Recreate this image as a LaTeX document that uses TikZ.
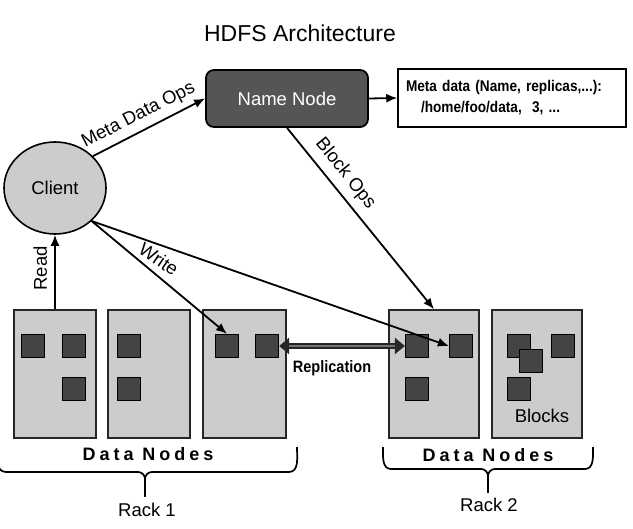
\documentclass[tikz,border=0pt]{standalone}
\usepackage{fontspec}
\setmainfont{Liberation Sans}
\newfontfamily\narrowfont[FakeStretch=0.88]{Liberation Sans}
\usetikzlibrary{arrows.meta,shapes.geometric}
\definecolor{lgray}{HTML}{CCCCCC}
\definecolor{dgray}{HTML}{555555}
\definecolor{bgray}{HTML}{444444}
\begin{document}
\begin{tikzpicture}[x=1pt,y=-1pt,
  lbl/.style={font=\fontsize{18.5}{18.5}\selectfont, inner sep=2pt},
  slbl/.style={lbl, sloped, anchor=south, inner ysep=#1},
  arr/.style={-{Latex[length=11pt,width=9pt]}, line width=1.8pt},
  dnode/.style={draw=black!85, fill=lgray, line width=1.6pt, inner sep=0, minimum height=128pt},
  blk/.style={draw=black, fill=bgray, line width=1.3pt, minimum size=23pt, inner sep=0},
  brace/.style={line width=1.7pt},
  dnlbl/.style={font={\bfseries\fontsize{18}{18}\selectfont\addfontfeature{LetterSpace=22}}},
  repl/.style={line width=5.5pt, draw=black!85, {Triangle[length=10pt,width=16pt]}-{Triangle[length=10pt,width=16pt]}},
  replin/.style={line width=1.6pt, draw=black!55, shorten >=10pt, shorten <=10pt}
]
\useasboundingbox (0,0) rectangle (633,529);

% title
\node[font=\fontsize{23}{24}\selectfont] (title) at (300,33) {HDFS Architecture};

% name node and meta data
\node[draw=black, fill=dgray, rounded corners=8pt, line width=1.8pt,
      minimum width=162pt, minimum height=57pt, text=white,
      font=\fontsize{18.5}{18.5}\selectfont] (nn) at (287,98.5) {Name Node};
\node[draw=black, line width=1.5pt, minimum width=228pt, minimum height=58pt,
      text width=212pt, inner xsep=8pt, align=left,
      font=\narrowfont\bfseries\fontsize{15.5}{21}\selectfont] (meta) at (512,98)
      {Meta data (Name, replicas,...):\\\hspace*{15pt}/home/foo/data,\ \ 3, ...};

% client
\node[ellipse, draw=black, fill=lgray, line width=1.6pt, minimum width=102pt,
      minimum height=92pt, inner sep=0, font=\fontsize{18.5}{18.5}\selectfont] (client) at (55,188) {Client};

% data nodes
\node[dnode, minimum width=82pt] (dn1) at (55,374) {};
\node[dnode, minimum width=82pt] (dn2) at (149,374) {};
\node[dnode, minimum width=83pt] (dn3) at (244.5,374) {};
\node[dnode, minimum width=90pt] (dn4) at (434,374) {};
\node[dnode, minimum width=90pt] (dn5) at (537,374) {};

% blocks
\node[blk] (b11) at (33,346) {};
\node[blk] (b12) at (74,346) {};
\node[blk] (b13) at (74,389) {};
\node[blk] (b21) at (129,346) {};
\node[blk] (b22) at (129,389) {};
\node[blk] (b31) at (227,346) {};
\node[blk] (b32) at (267,346) {};
\node[blk] (b41) at (417,346) {};
\node[blk] (b42) at (461,346) {};
\node[blk] (b43) at (417,389) {};
\node[blk] (b51) at (519,346) {};
\node[blk] (b52) at (531,361) {};
\node[blk] (b53) at (563,346) {};
\node[blk] (b54) at (519,389) {};
\node[lbl] (blockslbl) at (542,416) {Blocks};

% connectors
\draw[arr] (client.40) -- node[slbl=6pt, pos=0.47] {Meta Data Ops} (nn.west);
\draw[arr] (nn.east) -- (meta.west);
\draw[arr] (nn.south) -- node[slbl=7pt, pos=0.31] {Block Ops} (dn4.north);
\draw[arr] (dn1.north) -- node[slbl=7pt, pos=0.55] {Read} (client.south);
\draw[arr] (client.-42) -- node[slbl=6pt, pos=0.44, rotate=6] {Write} (b31.north);
\draw[arr] (client.-42) -- (b42.west);

% replication
\draw[repl] (b32.east) -- (b41.west);
\draw[replin] (b32.east) -- (b41.west);
\node[font=\narrowfont\bfseries\fontsize{16.5}{17}\selectfont] (repllbl) at (332,368) {Replication};

% braces
\draw[brace] (-3,447) to[out=-90,in=180] (6,472) -- (138,472) to[out=0,in=90] (145,479) -- (145,497);
\draw[brace] (145,479) to[out=90,in=180] (152,472) -- (289,472) to[out=0,in=-90] (297,447);
\draw[brace] (383,447) to[out=-90,in=180] (391,469) -- (481,469) to[out=0,in=90] (488,476) -- (488,493);
\draw[brace] (488,476) to[out=90,in=180] (495,469) -- (585,469) to[out=0,in=-90] (593,447);

\node[dnlbl] (dnl1) at (148,454) {Data Nodes};
\node[dnlbl] (dnl2) at (488,455) {Data Nodes};
\node[lbl] (rack1) at (147,510) {Rack 1};
\node[lbl] (rack2) at (489,505) {Rack 2};
\end{tikzpicture}
\end{document}
